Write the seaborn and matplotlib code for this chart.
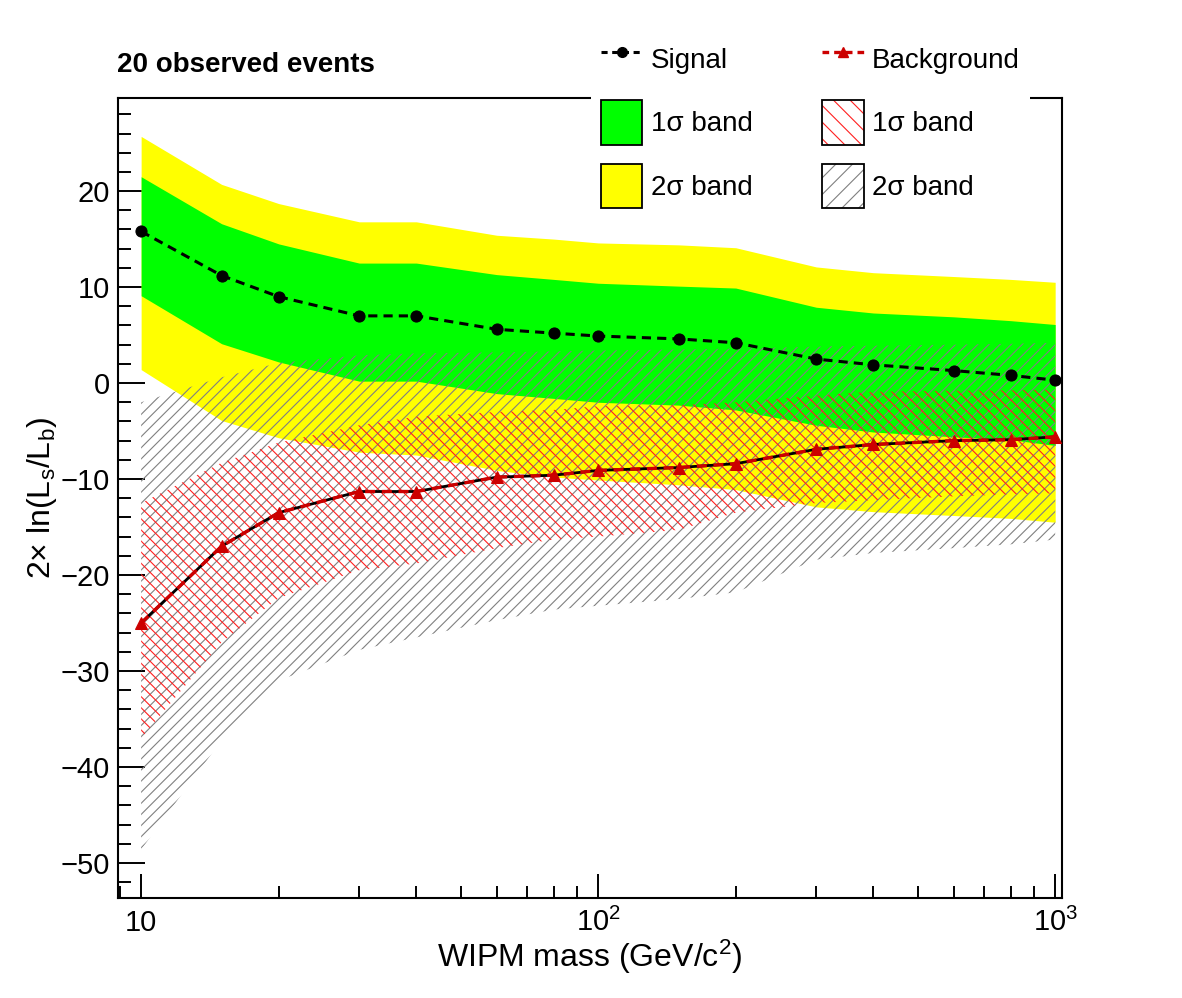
# -*- coding: utf-8 -*-
import matplotlib
matplotlib.use('Agg')
import matplotlib.pyplot as plt
from matplotlib.lines import Line2D
from matplotlib.patches import Patch
from matplotlib.ticker import FixedLocator, FixedFormatter, LogLocator, NullFormatter, MultipleLocator
import seaborn as sns

# WIPM mass points (GeV/c^2)
mass = [10, 15, 20, 30, 40, 60, 80, 100, 150, 200, 300, 400, 600, 800, 1000]

# signal hypothesis: median and bands
signal = [15.8, 11.2, 9.0, 7.0, 7.0, 5.6, 5.2, 4.9, 4.6, 4.2, 2.5, 1.9, 1.3, 0.8, 0.3]
sig_1s_hi = [21.5, 16.6, 14.5, 12.5, 12.5, 11.3, 10.8, 10.4, 10.1, 9.9, 7.9, 7.3, 6.9, 6.5, 6.1]
sig_1s_lo = [9.1, 4.1, 2.2, 0.2, 0.2, -1.1, -1.6, -2.0, -2.3, -2.8, -4.4, -5.1, -5.6, -5.9, -6.5]
sig_2s_hi = [25.7, 20.7, 18.7, 16.8, 16.8, 15.4, 15.0, 14.6, 14.4, 14.1, 12.1, 11.5, 11.1, 10.8, 10.5]
sig_2s_lo = [1.4, -3.9, -5.7, -7.2, -7.5, -9.1, -9.8, -10.1, -10.6, -11.1, -12.9, -13.4, -13.8, -14.1, -14.5]

# background hypothesis: median and bands
bkg = [-25.0, -17.0, -13.5, -11.3, -11.3, -9.8, -9.6, -9.1, -8.8, -8.4, -6.9, -6.4, -6.0, -5.9, -5.6]
bkg_1s_hi = [-12.5, -8.3, -6.2, -4.4, -3.5, -3.0, -2.8, -2.4, -2.3, -2.0, -1.3, -0.9, -0.8, -0.75, -0.7]
bkg_1s_lo = [-37.0, -27.0, -22.4, -19.5, -18.8, -17.2, -16.3, -16.0, -15.3, -13.5, -12.5, -12.2, -11.8, -11.6, -11.5]
bkg_2s_hi = [-2.0, 0.6, 2.1, 2.9, 3.1, 3.2, 3.3, 3.4, 3.5, 3.6, 3.8, 3.9, 4.0, 4.1, 4.2]
bkg_2s_lo = [-48.6, -37.2, -31.0, -27.8, -26.5, -24.7, -23.6, -23.2, -22.5, -21.8, -18.4, -17.7, -17.2, -16.8, -16.3]

xtick_vals = [10, 100, 1000]
xtick_labels = ['10', r'$10^{2}$', r'$10^{3}$']

sns.set_style('ticks')
plt.rcParams['font.family'] = ['Liberation Sans', 'DejaVu Sans']
plt.rcParams['mathtext.fontset'] = 'custom'
plt.rcParams['mathtext.rm'] = 'Liberation Sans'
plt.rcParams['mathtext.it'] = 'Liberation Sans:italic'
plt.rcParams['mathtext.bf'] = 'Liberation Sans:bold'
plt.rcParams['hatch.linewidth'] = 0.8
plt.rcParams['text.color'] = 'black'
plt.rcParams['axes.labelcolor'] = 'black'
plt.rcParams['xtick.color'] = 'black'
plt.rcParams['ytick.color'] = 'black'

fig = plt.figure(figsize=(11.82, 9.98), dpi=100)
ax = fig.add_axes([118 / 1182, 100 / 998, 944 / 1182, 800 / 998])

YELLOW = '#ffff00'
GREEN = '#00ff00'
RED = '#cc0000'
GRAYH = '#808080'
REDH = '#ff2020'

# signal bands
ax.fill_between(mass, sig_2s_lo, sig_2s_hi, color=YELLOW, lw=0, zorder=1)
ax.fill_between(mass, sig_1s_lo, sig_1s_hi, color=GREEN, lw=0, zorder=1.1)
# background bands (hatched)
ax.fill_between(mass, bkg_2s_lo, bkg_2s_hi, facecolor='none', edgecolor=GRAYH,
                hatch='///', lw=0, zorder=1.2)
ax.fill_between(mass, bkg_1s_lo, bkg_1s_hi, facecolor='none', edgecolor=REDH,
                hatch='\\\\\\', lw=0, zorder=1.3)

# median curves
sns.lineplot(x=mass, y=signal, ax=ax, color='black', lw=2.2, linestyle=(0, (3, 2)),
             marker='o', markersize=8, markeredgecolor='black', errorbar=None, zorder=3)
sns.lineplot(x=mass, y=bkg, ax=ax, color='black', lw=2.0, errorbar=None, zorder=3)
sns.lineplot(x=mass, y=bkg, ax=ax, color=RED, lw=2.4, linestyle=(0, (3, 2)),
             marker='^', markersize=8, markeredgecolor=RED, errorbar=None, zorder=3.1)

ax.set_xscale('log')
ax.set_xlim(8.9, 1035)
ax.set_ylim(-53.65, 29.7)

ax.xaxis.set_major_locator(FixedLocator(xtick_vals))
ax.xaxis.set_major_formatter(FixedFormatter(xtick_labels))
ax.xaxis.set_minor_locator(LogLocator(base=10, subs=[2, 3, 4, 5, 6, 7, 8, 9]))
ax.xaxis.set_minor_formatter(NullFormatter())
ax.yaxis.set_major_locator(MultipleLocator(10))
ax.yaxis.set_minor_locator(MultipleLocator(2))

ax.tick_params(which='both', direction='in', top=False, right=False, width=1.4, color='black')
ax.tick_params(axis='y', which='major', length=19.5, labelsize=21, pad=6)
ax.tick_params(axis='y', which='minor', length=9.5)
ax.tick_params(axis='x', which='major', length=17.5, labelsize=21, pad=24)
ax.tick_params(axis='x', which='minor', length=9)
for lab in ax.get_xticklabels():
    lab.set_verticalalignment('baseline')
ax.set_axisbelow(True)

for s in ax.spines.values():
    s.set_linewidth(1.5)
    s.set_color('black')

ax.set_xlabel(r'WIPM mass (GeV/c$^{2}$)', fontsize=23)
ax.xaxis.set_label_coords(0.5, -0.05)
ax.set_ylabel(r'2× ln(L$_{\mathrm{s}}$/L$_{\mathrm{b}}$)', fontsize=23)
ax.yaxis.set_label_coords(-0.063, 0.5)

fig.text(117 / 1182, 1 - 72 / 998, '20 observed events', fontsize=20, fontweight='bold',
         ha='left', va='baseline')

# legend
h_sig = Line2D([], [], color='black', lw=2.2, linestyle=(0, (2, 1.5)), marker='o', markersize=7)
h_bkg = Line2D([], [], color=RED, lw=2.4, linestyle=(0, (2, 1.5)), marker='^', markersize=7)
h_g = Patch(facecolor=GREEN, edgecolor='black', lw=1.3)
h_y = Patch(facecolor=YELLOW, edgecolor='black', lw=1.3)
h_r = (Patch(facecolor='white', edgecolor=REDH, hatch='\\\\', lw=0),
       Patch(facecolor='none', edgecolor='black', lw=1.3))
h_k = (Patch(facecolor='white', edgecolor=GRAYH, hatch='//', lw=0),
       Patch(facecolor='none', edgecolor='black', lw=1.3))

leg = fig.legend([h_sig, h_g, h_y, h_bkg, h_r, h_k],
                 ['Signal', '1σ band', '2σ band', 'Background', '1σ band', '2σ band'],
                 ncol=2, loc='upper left', bbox_to_anchor=(591 / 1182, 1 - 27 / 998),
                 borderaxespad=0, fontsize=20, frameon=True, fancybox=False,
                 facecolor='white', edgecolor='none', framealpha=1,
                 handlelength=1.5, handleheight=2.07, labelspacing=0.7,
                 handletextpad=0.3, columnspacing=2.5, borderpad=0.35)

fig.savefig('out.png', dpi=100)
